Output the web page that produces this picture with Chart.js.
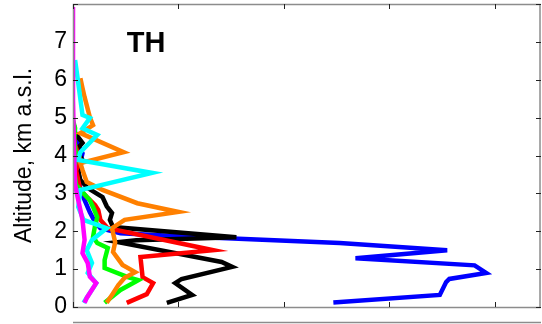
<!DOCTYPE html>
<html>
<head>
<meta charset="utf-8">
<script src="https://cdn.jsdelivr.net/npm/chart.js@4"></script>
<style>
  html, body { margin: 0; padding: 0; background: #fff; }
  canvas { display: block; }
</style>
</head>
<body>
<canvas id="profile-chart" width="542" height="324"></canvas>
<script>
// Vertical profiles, station TH (x in tick units, altitude in km a.s.l.)

const xTicks = [0, 1, 2, 3, 4];
const altTicks = [0, 1, 2, 3, 4, 5, 6, 7, 8];

const blueAlt = [0.12, 0.32, 0.66, 0.74, 0.90, 1.10, 1.29, 1.50, 1.69, 1.78, 1.87, 1.95, 2.08, 2.24, 2.50, 2.82, 3.09, 3.60, 4.06, 4.40, 4.80];
const blueVal = [2.47, 3.48, 3.54, 3.57, 3.92, 3.81, 2.68, 3.55, 2.53, 1.74, 1.01, 0.45, 0.26, 0.21, 0.16, 0.11, 0.07, 0.05, 0.09, 0.03, 0.01];

const blackAlt = [0.11, 0.32, 0.63, 0.74, 1.06, 1.19, 1.71, 1.76, 1.84, 2.11, 2.30, 2.48, 2.66, 2.90, 3.14, 3.35, 3.60, 3.88, 4.14, 4.33, 4.59, 4.80];
const blackVal = [0.89, 1.13, 0.97, 1.03, 1.51, 1.41, 0.43, 0.60, 1.55, 0.38, 0.35, 0.37, 0.32, 0.28, 0.14, 0.07, 0.05, 0.09, 0.03, 0.09, 0.02, 0.00];

const redAlt = [0.11, 0.34, 0.63, 0.79, 1.32, 1.50, 2.08, 2.30, 2.56, 2.69, 2.88, 3.09, 3.60, 3.88, 4.27, 4.67];
const redVal = [0.51, 0.70, 0.76, 0.66, 0.64, 1.33, 0.33, 0.26, 0.24, 0.21, 0.14, 0.07, 0.03, 0.07, 0.02, 0.00];

const greenAlt = [0.11, 0.45, 0.71, 0.79, 1.03, 1.24, 1.56, 1.69, 1.85, 2.16, 2.37, 2.64, 2.82, 3.03, 3.22, 3.60, 4.00, 4.40, 4.72, 4.93];
const greenVal = [0.30, 0.45, 0.62, 0.52, 0.30, 0.30, 0.33, 0.23, 0.19, 0.21, 0.23, 0.19, 0.16, 0.09, 0.03, 0.01, 0.03, 0.01, 0.02, 0.00];

const orangeAlt = [0.11, 0.32, 0.58, 0.77, 0.92, 1.11, 1.45, 1.71, 2.08, 2.30, 2.51, 2.74, 3.09, 3.30, 3.62, 3.80, 4.09, 4.59, 4.80, 5.01, 5.33, 5.54, 5.78, 6.04];
const orangeVal = [0.32, 0.37, 0.43, 0.49, 0.59, 0.47, 0.38, 0.40, 0.37, 0.49, 1.00, 0.61, 0.28, 0.13, 0.09, 0.07, 0.48, 0.07, 0.19, 0.16, 0.13, 0.11, 0.09, 0.07];

const cyanAlt = [0.11, 0.63, 0.90, 1.16, 1.50, 1.77, 2.08, 2.30, 2.64, 3.09, 3.54, 3.88, 4.09, 4.54, 4.72, 4.99, 5.07, 5.91, 6.52];
const cyanVal = [0.10, 0.22, 0.14, 0.18, 0.13, 0.18, 0.32, 0.10, 0.05, 0.07, 0.75, 0.05, 0.07, 0.23, 0.09, 0.16, 0.09, 0.05, 0.02];

const magentaAlt = [0.11, 0.24, 0.63, 0.80, 1.16, 1.42, 1.77, 2.30, 2.82, 3.22, 4.14, 5.46, 7.92];
const magentaVal = [0.11, 0.13, 0.22, 0.16, 0.14, 0.09, 0.11, 0.09, 0.05, 0.02, 0.01, 0.00, 0.00];

// drawn top-most first
const series = [
    { name: 'magenta', color: '#ff00ff', alt: magentaAlt, val: magentaVal },
    { name: 'cyan', color: '#00ffff', alt: cyanAlt, val: cyanVal },
    { name: 'orange', color: '#ff8000', alt: orangeAlt, val: orangeVal },
    { name: 'green', color: '#00ff00', alt: greenAlt, val: greenVal },
    { name: 'red', color: '#ff0000', alt: redAlt, val: redVal },
    { name: 'black', color: '#000000', alt: blackAlt, val: blackVal },
    { name: 'blue', color: '#0000ff', alt: blueAlt, val: blueVal }
];

const FONT = "'Liberation Sans', Arial, Helvetica, sans-serif";

// MATLAB-like box with inward ticks, plus the panel label
const framePlugin = {
    id: 'frame',
    afterDraw(chart) {
        const { ctx, chartArea: a, scales } = chart;
        const x = scales.x, y = scales.y;
        ctx.save();
        ctx.strokeStyle = '#8c8c8c';
        ctx.lineWidth = 1.5;
        ctx.strokeRect(a.left + 0.5, a.top + 0.5, a.right - a.left - 1.5, a.bottom - a.top);

        ctx.strokeStyle = '#222';
        ctx.lineWidth = 1;
        ctx.beginPath();
        xTicks.forEach(v => {
            const px = Math.round(x.getPixelForValue(v)) + 0.5;
            ctx.moveTo(px, a.bottom); ctx.lineTo(px, a.bottom - 5);
            ctx.moveTo(px, a.top); ctx.lineTo(px, a.top + 5);
        });
        altTicks.forEach(v => {
            const py = Math.round(y.getPixelForValue(v)) + 0.5;
            ctx.moveTo(a.left, py); ctx.lineTo(a.left + 5, py);
            ctx.moveTo(a.right, py); ctx.lineTo(a.right - 5, py);
        });
        ctx.stroke();

        // top edge of the panel below
        const nextTop = chart.height - 1.5;
        ctx.strokeStyle = '#8c8c8c';
        ctx.lineWidth = 1.5;
        ctx.beginPath();
        ctx.moveTo(a.left, nextTop); ctx.lineTo(a.right, nextTop);
        ctx.stroke();

        ctx.fillStyle = '#000';
        ctx.font = 'bold 29px ' + FONT;
        ctx.textAlign = 'center';
        ctx.textBaseline = 'middle';
        ctx.fillText('TH', 146, 44);
        ctx.restore();
    }
};

new Chart(document.getElementById('profile-chart'), {
    type: 'scatter',
    data: {
        datasets: series.map(s => ({
            label: s.name,
            data: s.alt.map((h, i) => ({ x: s.val[i], y: h })),
            showLine: true,
            borderColor: s.color,
            backgroundColor: s.color,
            borderWidth: 4.5,
            pointRadius: 0,
            tension: 0
        }))
    },
    options: {
        responsive: false,
        animation: false,
        devicePixelRatio: 1,
        layout: { padding: { top: 4, right: 1, left: 0, bottom: 0 } },
        plugins: {
            legend: { display: false },
            tooltip: { enabled: false }
        },
        scales: {
            x: {
                type: 'linear',
                min: 0,
                max: 4.44,
                grid: { display: false, drawTicks: false },
                border: { display: false },
                ticks: { display: false },
                afterFit(scale) {
                    scale.height = 17;
                    scale.paddingLeft = 0;
                    scale.paddingRight = 0;
                }
            },
            y: {
                type: 'linear',
                min: 0,
                max: 8,
                grid: { display: false, drawTicks: false },
                border: { display: false },
                afterBuildTicks(scale) { scale.ticks = altTicks.map(v => ({ value: v })); },
                ticks: {
                    color: '#000',
                    padding: 6,
                    font: { family: FONT, size: 23 },
                    callback: v => (v === 8 ? '' : String(v))
                },
                title: {
                    display: true,
                    text: 'Altitude, km a.s.l.',
                    color: '#000',
                    font: { family: FONT, size: 23 },
                    padding: { top: 11, bottom: 0 }
                },
                afterFit(scale) {
                    scale.width = 73;
                    scale.paddingTop = 0;
                    scale.paddingBottom = 0;
                }
            }
        }
    },
    plugins: [framePlugin]
});
</script>
</body>
</html>
